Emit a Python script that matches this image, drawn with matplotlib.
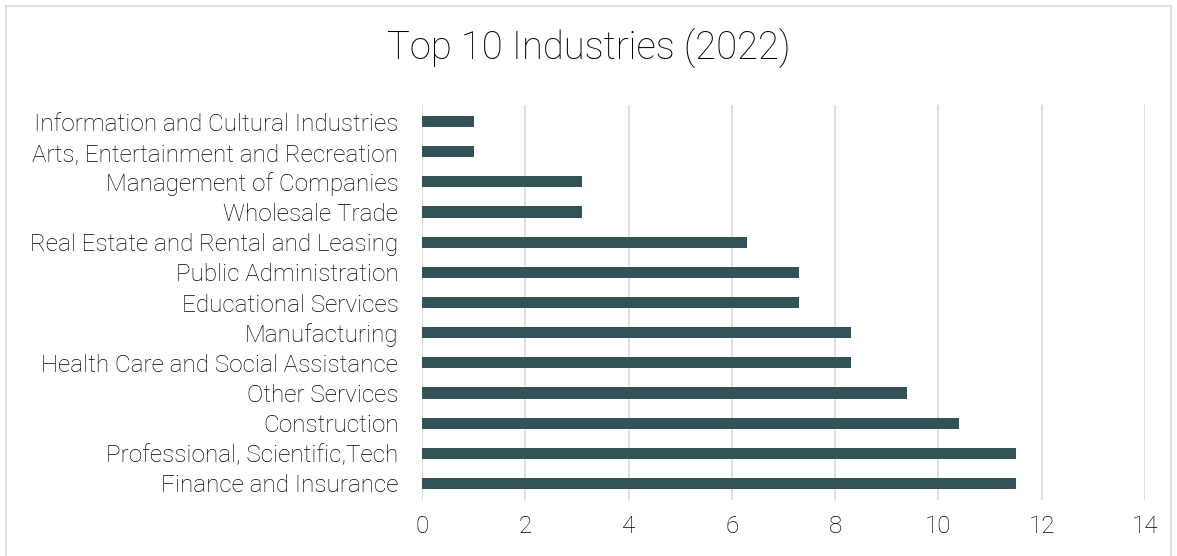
import matplotlib.pyplot as plt
from matplotlib.patches import Rectangle

industries = [
    "Finance and Insurance",
    "Professional, Scientific,Tech",
    "Construction",
    "Other Services",
    "Health Care and Social Assistance",
    "Manufacturing",
    "Educational Services",
    "Public Administration",
    "Real Estate and Rental and Leasing",
    "Wholesale Trade",
    "Management of Companies",
    "Arts, Entertainment and Recreation",
    "Information and Cultural Industries",
]
shares = [11.5, 11.5, 10.4, 9.4, 8.3, 8.3, 7.3, 7.3, 6.3, 3.1, 3.1, 1.0, 1.0]
x_ticks = [0, 2, 4, 6, 8, 10, 12, 14]

bar_color = "#315256"
grid_color = "#d9d9d9"
text_color = "#000000"

plt.rcParams['font.family'] = ['Roboto', 'DejaVu Sans']
plt.rcParams['font.weight'] = 'light'

fig = plt.figure(figsize=(11.77, 5.56), dpi=100)
# axes box in pixels: x 422..1145, y 105..500 (from top)
W, H = 1177, 556
ax = fig.add_axes([422 / W, 1 - 500 / H, (1145 - 422) / W, (500 - 105) / H])

y = list(range(len(industries)))
ax.barh(y, shares, height=0.37, color=bar_color, zorder=3)

ax.set_xlim(0, 14)
ax.set_ylim(-0.55, len(industries) - 0.45)
ax.set_xticks(x_ticks)
ax.set_xticklabels([str(t) for t in x_ticks], fontsize=17.5, color=text_color)
ax.set_yticks(y)
ax.set_yticklabels(industries, fontsize=17.5, color=text_color)
ax.tick_params(axis='both', length=0)
ax.tick_params(axis='x', pad=11)
ax.tick_params(axis='y', pad=17)
ax.grid(axis='x', color=grid_color, linewidth=1.2, zorder=0)
for s in ax.spines.values():
    s.set_visible(False)

fig.text(0.5, 1 - 48 / H, "Top 10 Industries (2022)", ha='center', va='center',
         fontsize=27.5, color=text_color)

# chart outline like the source
fig.patches.append(Rectangle((6 / W, -0.05), (W - 12) / W, 1.05 - 6 / H,
                             transform=fig.transFigure, fill=False,
                             edgecolor="#d9d9d9", linewidth=1.2))

fig.savefig("out.png", dpi=100)
